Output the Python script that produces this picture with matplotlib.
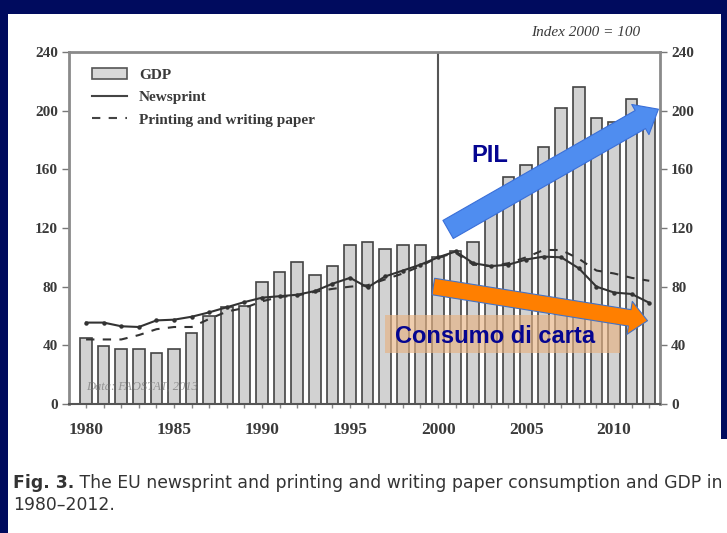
import matplotlib
matplotlib.use("Agg")
import matplotlib.pyplot as plt
from matplotlib.patches import Rectangle, FancyArrowPatch, Patch
from matplotlib.lines import Line2D

# EU data, index 2000 = 100
years = list(range(1980, 2013))
gdp = [45, 39.5, 37.5, 37.5, 35, 37.5, 48.5, 60, 66, 67, 83.5, 90, 97, 88, 94,
       108.5, 110.5, 105.5, 108.5, 108.5, 100, 104, 110.5, 130, 155, 163, 175,
       202, 216, 195, 192, 208, 195]
newsprint = [55.5, 55.5, 53, 52.5, 57, 57.5, 59.5, 62.5, 66, 69.5, 72.5, 73.5,
             74.5, 77, 82, 86, 79.5, 87, 91, 95, 100, 104, 96, 94, 95, 98.5,
             100.5, 100, 92.5, 80, 76, 75, 69]
printing = [44, 44, 44, 47, 51, 52.5, 52.5, 58, 63, 65.5, 70, 73, 74, 76.5, 78.5,
            80, 81, 85, 89, 94, 100, 103, 95, 94, 96, 100, 105, 105, 99, 91, 89,
            86, 84]
yticks = [0, 40, 80, 120, 160, 200, 240]
xlabels = [1980, 1985, 1990, 1995, 2000, 2005, 2010]

serif = "Liberation Serif"
txt_col = "#3a3a3a"

fig = plt.figure(figsize=(7.27, 5.33), dpi=100)
fig.patch.set_facecolor("#000b5e")
# white slide panels: chart image and caption image
fig.patches.append(Rectangle((8 / 727, 93 / 533), (721 - 8) / 727, 1 - 14 / 533 - 93 / 533,
                             transform=fig.transFigure, facecolor="white",
                             edgecolor="none", zorder=-10))
fig.patches.append(Rectangle((8 / 727, 0), 1 - 8 / 727, 93 / 533 + 0.002,
                             transform=fig.transFigure, facecolor="white",
                             edgecolor="none", zorder=-10))

ax = fig.add_axes([69 / 727, 1 - 404 / 533, (660 - 69) / 727, (404 - 52) / 533])
ax.set_xlim(1979.03, 2012.61)
ax.set_ylim(0, 240)

ax.axvline(2000, color="#555555", lw=1.5, zorder=1)
ax.bar(years, gdp, width=0.66, color="#d2d2d2", edgecolor="#444444",
       linewidth=1.2, zorder=2)
ax.plot(years, newsprint, color="#333333", lw=1.5, marker="o", ms=2.2, zorder=3)
ax.plot(years, printing, color="#333333", lw=1.5, ls=(0, (4, 4)), zorder=3)

# axes styling
for side in ["left", "top", "right"]:
    ax.spines[side].set_color("#8a8a8a")
    ax.spines[side].set_linewidth(2)
ax.spines["bottom"].set_color("#555555")
ax.spines["bottom"].set_linewidth(1.5)

ax.set_yticks(yticks)
ax.tick_params(axis="y", left=True, right=True, labelleft=True, labelright=True,
               length=5, width=1, color="#777777", pad=3, labelsize=11,
               labelcolor=txt_col)
ax.set_xticks(xlabels)
ax.set_xticks(years, minor=True)
ax.tick_params(axis="x", which="both", length=3, width=1, color="#888888",
               pad=10, labelsize=12.5, labelcolor=txt_col)
for lab in ax.get_xticklabels() + ax.get_yticklabels():
    lab.set_fontfamily(serif)
    lab.set_fontweight("bold")

# legend
handles = [Patch(facecolor="#d8d8d8", edgecolor="#555555", lw=1.2),
           Line2D([], [], color="#444444", lw=1.5),
           Line2D([], [], color="#444444", lw=1.5, ls=(0, (4, 4)))]
ax.legend(handles, ["GDP", "Newsprint", "Printing and writing paper"],
          loc="upper left", bbox_to_anchor=(84 / 727, 1 - 60 / 533),
          bbox_transform=fig.transFigure, frameon=False, borderpad=0,
          handlelength=2.3, handleheight=0.8, handletextpad=0.8,
          labelspacing=0.55, prop={"family": serif, "weight": "bold", "size": 11},
          labelcolor=txt_col)

ax.text(0.966, 1.055, "Index 2000 = 100", transform=ax.transAxes, ha="right",
        va="center", fontsize=11, family=serif, style="italic", color=txt_col)
ax.text(1980, 10, "Data: FAOSTAT, 2013", fontsize=9, family=serif,
        style="italic", color="#777777", alpha=0.7, zorder=4)

# slide overlays
ax.add_patch(Rectangle((1997.0, 34.8), 13.35, 25.9, facecolor="#e7b283",
                       alpha=0.65, edgecolor="none", zorder=5))
ax.text(2003.24, 41.4, "Consumo di carta", ha="center", va="baseline",
        fontsize=17, fontweight="bold", family="Liberation Sans",
        color="#050591", zorder=7)
ax.text(2002.95, 165, "PIL", ha="center", va="baseline", fontsize=17,
        fontweight="bold", family="Liberation Sans", color="#050591", zorder=7)

blue = FancyArrowPatch((2000.57, 119), (2012.52, 201),
                       arrowstyle="simple,head_length=15,head_width=25,tail_width=15",
                       mutation_scale=1, shrinkA=0, shrinkB=0,
                       facecolor="#4f8df0", edgecolor="#3a6fd8", lw=0.8,
                       zorder=6, clip_on=False)
orange = FancyArrowPatch((1999.73, 80.1), (2011.9, 56.8),
                         arrowstyle="simple,head_length=13,head_width=24,tail_width=12",
                         mutation_scale=1, shrinkA=0, shrinkB=0,
                         facecolor="#ff7f00", edgecolor="#4472c4", lw=0.8,
                         zorder=6, clip_on=False)
ax.add_patch(blue)
ax.add_patch(orange)

# caption
cap1 = fig.text(13 / 727, 1 - 483 / 533, "Fig. 3.", fontsize=12.4,
                fontweight="bold", color="#333333", va="center")
ax.annotate(" The EU newsprint and printing and writing paper consumption and GDP in",
            xy=(1, 0), xycoords=cap1, va="bottom", fontsize=12.4, color="#333333",
            annotation_clip=False)
fig.text(13 / 727, 1 - 505 / 533, "1980\u20132012.", fontsize=12.4,
         color="#333333", va="center")

fig.savefig("out.png", dpi=100, facecolor=fig.get_facecolor())
